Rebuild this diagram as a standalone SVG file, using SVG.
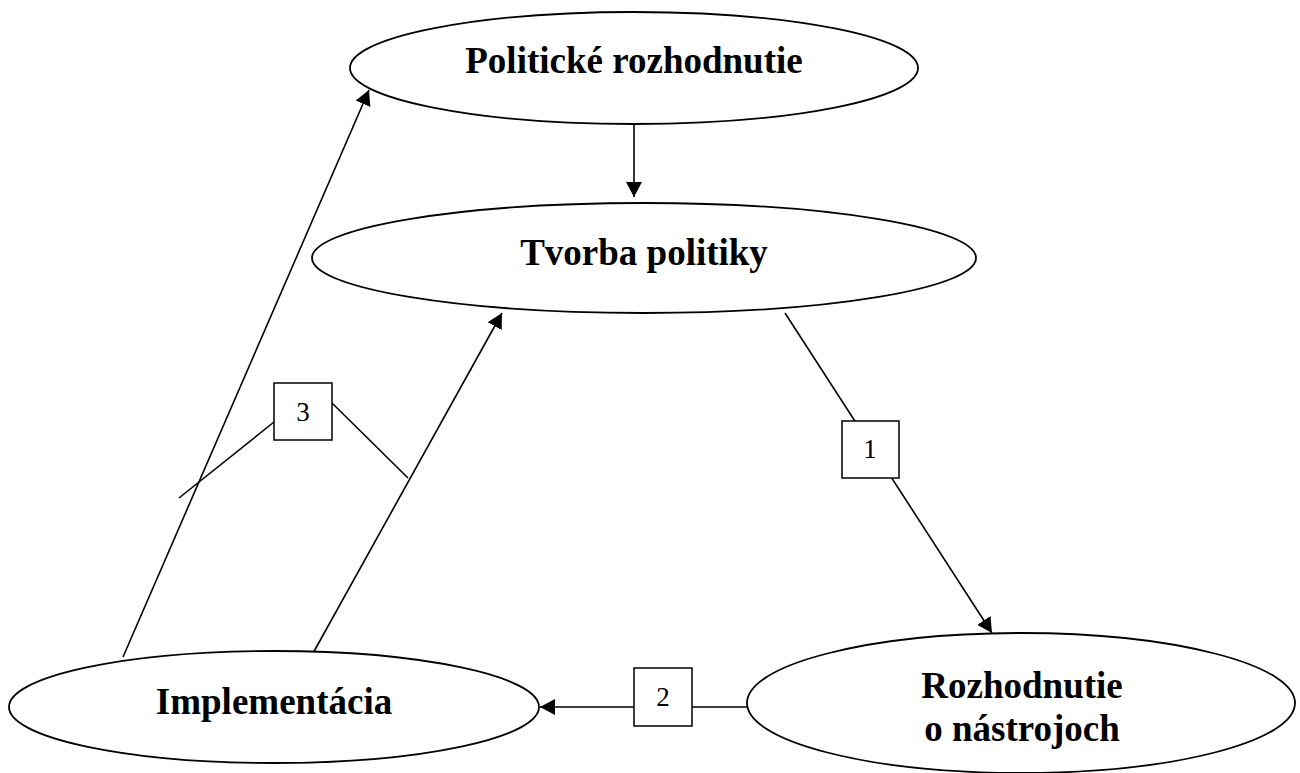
<svg xmlns="http://www.w3.org/2000/svg" width="1300" height="773" viewBox="0 0 1300 773">
<style>
.node ellipse{fill:#fff;stroke:#000;stroke-width:1.8}
.lbl{font-family:"Liberation Serif","Times New Roman",serif;font-weight:bold;font-size:37px;text-anchor:middle;fill:#000}
.box rect{fill:#fff;stroke:#000;stroke-width:1.5}
.num{font-family:"Liberation Serif","Times New Roman",serif;font-size:27px;text-anchor:middle;fill:#000}
.conn line{stroke:#000;stroke-width:1.6;fill:none}
</style>
<defs>
<marker id="arr" viewBox="0 0 15 16" refX="15" refY="8" markerWidth="15" markerHeight="16" markerUnits="userSpaceOnUse" orient="auto">
<path d="M0,0 L15,8 L0,16 z" fill="#000"/>
</marker>
</defs>
<rect width="1300" height="773" fill="#fff"/>
<g id="connectors" class="conn">
<line x1="634" y1="121" x2="634" y2="197" marker-end="url(#arr)"/>
<line x1="785" y1="313" x2="992" y2="633" marker-end="url(#arr)"/>
<line x1="747" y1="707" x2="540" y2="707" marker-end="url(#arr)"/>
<line x1="123" y1="657" x2="369" y2="90" marker-end="url(#arr)"/>
<line x1="312" y1="655" x2="502" y2="313" marker-end="url(#arr)"/>
<line x1="274" y1="422" x2="179" y2="498"/>
<line x1="332" y1="403" x2="408" y2="478"/>
</g>
<g id="node-politicke" class="node">
<ellipse cx="634" cy="68" rx="284" ry="56"/>
<text class="lbl" x="634" y="73">Politické rozhodnutie</text>
</g>
<g id="node-tvorba" class="node">
<ellipse cx="644" cy="258" rx="332" ry="55"/>
<text class="lbl" x="644" y="265">Tvorba politiky</text>
</g>
<g id="node-implementacia" class="node">
<ellipse cx="274" cy="707" rx="265" ry="56"/>
<text class="lbl" x="274" y="714">Implementácia</text>
</g>
<g id="node-rozhodnutie" class="node">
<ellipse cx="1021" cy="703" rx="274" ry="70"/>
<text class="lbl" x="1022" y="698">Rozhodnutie</text>
<text class="lbl" x="1022" y="741">o nástrojoch</text>
</g>
<g id="box-1" class="box">
<rect x="842" y="421" width="57" height="57"/>
<text class="num" x="870" y="458">1</text>
</g>
<g id="box-2" class="box">
<rect x="634" y="668" width="58" height="58"/>
<text class="num" x="663" y="706">2</text>
</g>
<g id="box-3" class="box">
<rect x="274" y="383" width="58" height="57"/>
<text class="num" x="303" y="421">3</text>
</g>
</svg>
